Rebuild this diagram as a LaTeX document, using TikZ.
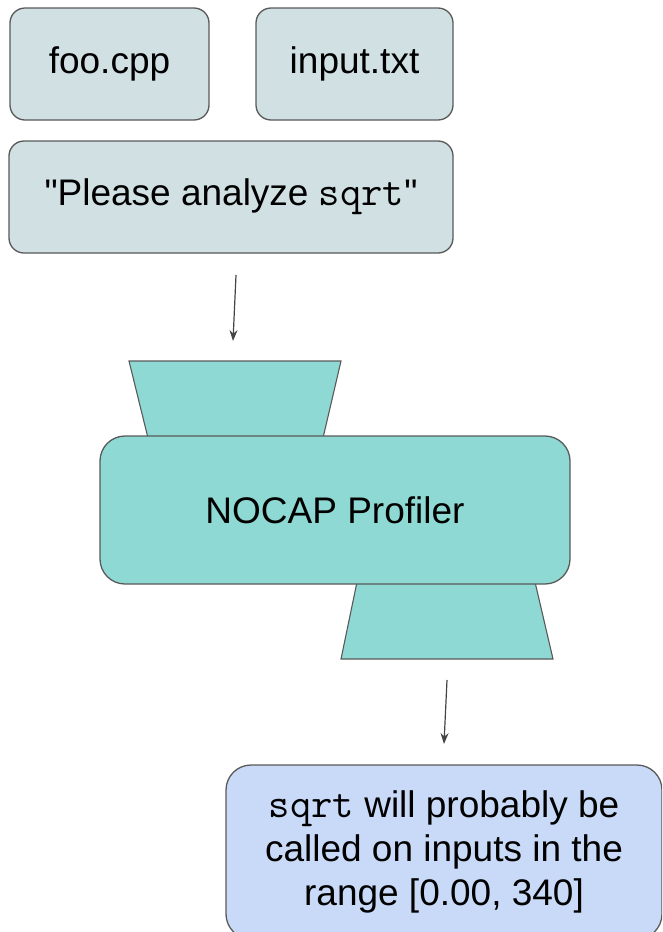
\documentclass[tikz,border=0pt]{standalone}
\usepackage{fontspec}
\setmainfont{Liberation Sans}
\newfontfamily\qfont{Liberation Sans}
\setmonofont[Scale=1.12]{Latin Modern Mono}
\usetikzlibrary{arrows.meta}
\definecolor{linec}{HTML}{595959}
\definecolor{arrc}{HTML}{444444}
\definecolor{grayblue}{HTML}{D0E0E3}
\definecolor{teal}{HTML}{8ED9D3}
\definecolor{lblue}{HTML}{C9DAF8}
\tikzset{
  boxstyle/.style={draw=linec, line width=1.3pt, rectangle, inner sep=0pt,
    font=\fontsize{37}{44}\selectfont, text=black},
  trap/.style={draw=linec, line width=1.1pt, fill=teal},
  conn/.style={draw=arrc, line width=1.2pt, -{Stealth[length=11pt,width=8pt]}}
}
\begin{document}
\begin{tikzpicture}[x=1pt,y=-1pt]
\useasboundingbox (0,0) rectangle (662,932);
\clip (0,0) rectangle (662,932);

\node[boxstyle, fill=grayblue, rounded corners=15pt, minimum width=199pt, minimum height=112pt] (foo) at (109.5,64) {foo.cpp};
\node[boxstyle, fill=grayblue, rounded corners=15pt, minimum width=197pt, minimum height=112pt] (input) at (354.5,64) {input.txt};
\node[boxstyle, fill=grayblue, rounded corners=15pt, minimum width=444pt, minimum height=112pt] (please) at (231,197) {{\qfont"}Please analyze \texttt{sqrt}{\qfont"}};

% trapezoids
\path[trap] (129,361) -- (341,361) -- (323,438) -- (148,438) -- cycle;
\path[trap] (357,582) -- (535,582) -- (553,659) -- (341,659) -- cycle;

\node[boxstyle, fill=teal, rounded corners=25pt, minimum width=470pt, minimum height=148pt] (nocap) at (335,510) {NOCAP Profiler};

\node[boxstyle, fill=lblue, rounded corners=25pt, minimum width=436pt, minimum height=174pt, align=center] (result) at (444,852)
  {\texttt{sqrt} will probably be\\called on inputs in the\\range [0.00, 340]};

\coordinate (a1s) at (236,275);
\coordinate (a1e) at (233,341);
\coordinate (a2s) at (447,680);
\coordinate (a2e) at (444,744);
\draw[conn] (a1s) -- (a1e);
\draw[conn] (a2s) -- (a2e);
\end{tikzpicture}
\end{document}
